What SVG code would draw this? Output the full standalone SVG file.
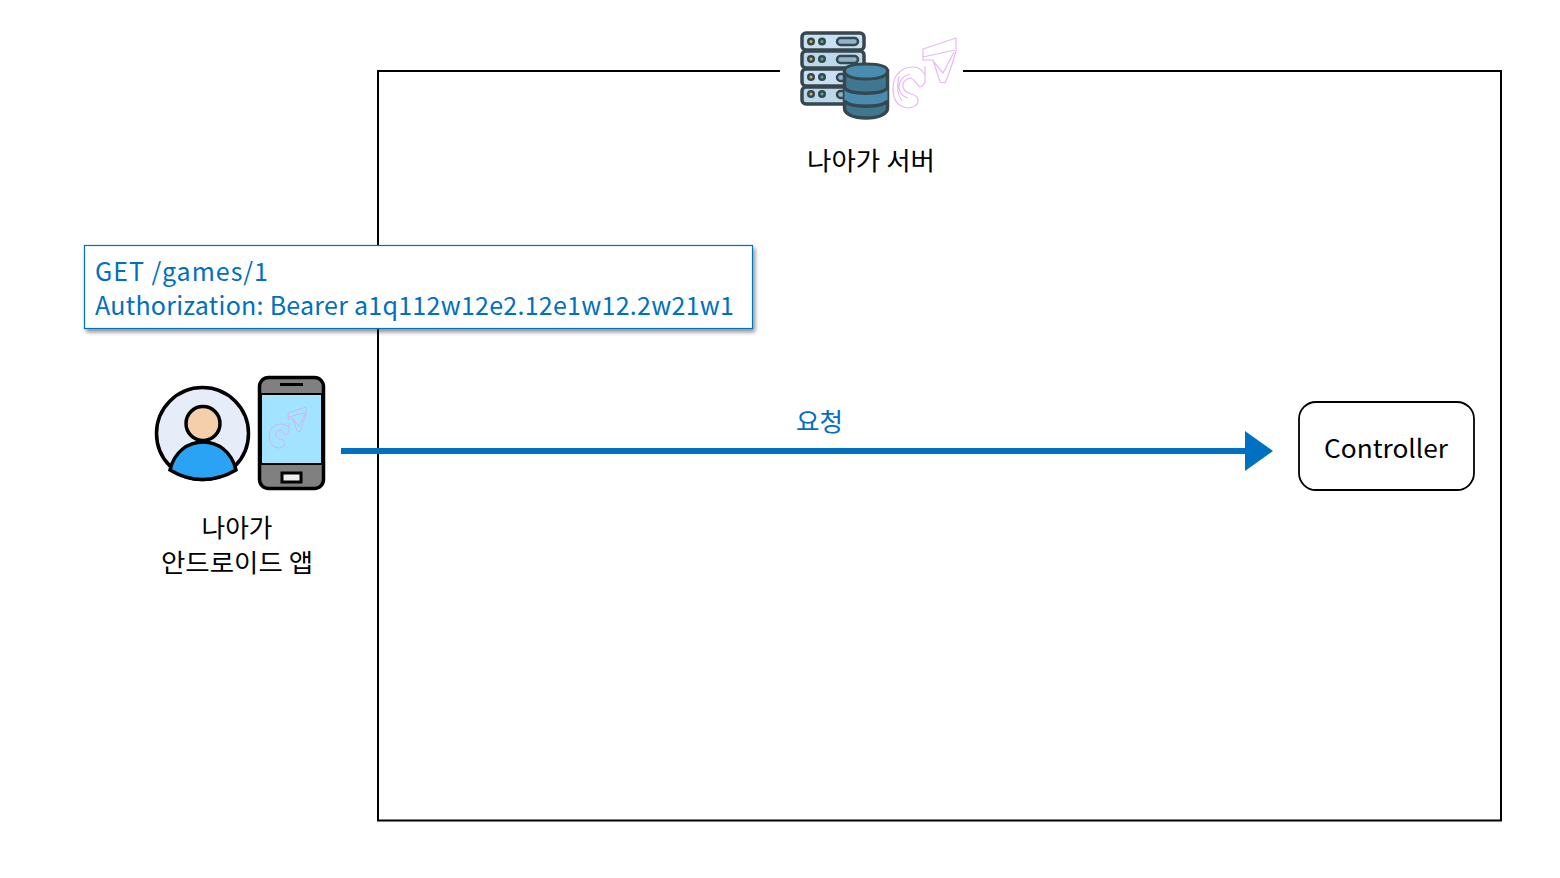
<svg xmlns="http://www.w3.org/2000/svg" width="1560" height="878" viewBox="0 0 1560 878">
<style>
text{font-family:"Noto Sans CJK KR","Noto Sans",sans-serif;font-size:25px;fill:#000}
.b{fill:#0070c0}
.sv{stroke:#37474f;stroke-width:3.500;fill:#bcd6ea}
.dk{fill:#37474f}
.logo{fill:none;stroke:#e8b8f8;stroke-width:1.200;stroke-linejoin:round}
.logo2{fill:none;stroke:#d8a8f0;stroke-width:.8;stroke-linejoin:round}
.k{stroke:#000;stroke-width:3.500}
</style>
<defs>
<filter id="sh" x="-5%" y="-10%" width="110%" height="125%"><feDropShadow dx="2" dy="3" stdDeviation="2" flood-color="#000" flood-opacity=".45"/></filter>
<marker id="arr" markerUnits="userSpaceOnUse" markerWidth="29" markerHeight="40" refX="5" refY="20" orient="auto"><path d="M0 0L28 20L0 40Z" fill="#0070c0"/></marker>
<g id="cv">
<path d="M923 49L956 38L956 51C953 62 949 74 945 83L940 82L933 60L923 60ZM923 57L955 50M933 61L943 73L954 52"/>
<path d="M925 66L925 78C926 83 922 87 920 87C916 84 914 78 910 78C905 79 902 83 903 87C904 91 907 93 911 94C916 95 919 98 918 102C917 106 912 108 907 108C900 107 896 103 894 97C892 90 893 81 896 76C900 70 907 67 913 67C918 67 922 69 925 75"/>
<path d="M899 76C897 84 897 94 902 101M910 74C904 76 899 80 899 87C899 93 903 97 908 98"/>
</g>
</defs>
<rect width="1560" height="878" fill="#fff"/>
<g id="server-frame"><path d="M780 71H378V820.500H1501V71H963" fill="none" stroke="#000" stroke-width="2"/></g>
<g id="server-node">
<rect class="sv" x="802" y="33" width="62" height="17" rx="4" style="fill:#c9e0f2"/>
<rect class="sv" x="802" y="51" width="62" height="17" rx="4"/>
<rect class="sv" x="802" y="69" width="62" height="17" rx="4" style="fill:#c9e0f2"/>
<rect class="sv" x="802" y="87" width="62" height="17" rx="4"/>
<circle class="dk" cx="811" cy="41.500" r="4"/><circle class="dk" cx="822" cy="41.500" r="4"/>
<circle class="dk" cx="811" cy="59" r="4"/><circle class="dk" cx="822" cy="59" r="4"/>
<circle class="dk" cx="811" cy="77" r="4"/><circle class="dk" cx="822" cy="77" r="4"/>
<circle class="dk" cx="811" cy="94" r="4"/><circle class="dk" cx="822" cy="94" r="4"/>
<circle cx="811" cy="41.500" r="1.500" fill="#d8b840"/><circle cx="822" cy="41.500" r="1.500" fill="#40b890"/>
<circle cx="811" cy="59" r="1.500" fill="#d8b840"/><circle cx="822" cy="59" r="1.500" fill="#40b890"/>
<circle cx="811" cy="77" r="1.500" fill="#d8b840"/><circle cx="822" cy="77" r="1.500" fill="#40b890"/>
<circle cx="811" cy="94" r="1.500" fill="#d8b840"/><circle cx="822" cy="94" r="1.500" fill="#40b890"/>
<rect x="837" y="38" width="21" height="7" rx="3.500" fill="#8fb4cc" stroke="#37474f" stroke-width="2.500"/>
<rect x="837" y="56" width="21" height="7" rx="3.500" fill="#8fb4cc" stroke="#37474f" stroke-width="2.500"/>
<rect x="837" y="74" width="21" height="7" rx="3.500" fill="#8fb4cc" stroke="#37474f" stroke-width="2.500"/>
<rect x="837" y="91" width="21" height="7" rx="3.500" fill="#8fb4cc" stroke="#37474f" stroke-width="2.500"/>
<path d="M844.500 71V108C844.500 114 853 118 866 118C879 118 887.500 114 887.500 108V71Z" fill="#3f7690" stroke="#37474f" stroke-width="3.500"/>
<path d="M844.500 71C844.500 66 853 64 866 64C879 64 887.500 66 887.500 71C887.500 76 879 79 866 79C853 79 844.500 76 844.500 71Z" fill="#4a8bb0" stroke="#37474f" stroke-width="3"/>
<path d="M844.500 90C850 96 882 96 887.500 90V100C882 106 850 106 844.500 100Z" fill="#4a8bb0"/>
<path d="M844.500 88C850 95 882 95 887.500 88M844.500 101C850 108 882 108 887.500 101" fill="none" stroke="#37474f" stroke-width="3.500"/>
<use href="#cv" class="logo"/>
<text x="807" y="170" textLength="128" lengthAdjust="spacingAndGlyphs">나아가 서버</text>
</g>
<g id="request-note">
<rect x="84.500" y="245.500" width="668" height="83" fill="#fff" stroke="#0070c0" stroke-width="1.200" filter="url(#sh)"/>
<text class="b" x="95" y="281" textLength="173" lengthAdjust="spacing">GET /games/1</text>
<text class="b" x="95" y="315" textLength="639" lengthAdjust="spacing">Authorization: Bearer a1q112w12e2.12e1w12.2w21w1</text>
</g>
<g id="android-app">
<circle cx="202.500" cy="433.500" r="46" fill="#e6ecf8" class="k"/>
<path d="M170 470C174 452 188 442 203 442C218 442 232 452 236 470C226 476 214 479.500 202 479.500C190 479.500 180 476 170 470Z" fill="#2aa3f5" class="k"/>
<circle cx="203" cy="423.500" r="17" fill="#f5cfac" class="k"/>
<rect x="259.500" y="377.500" width="64" height="111" rx="9" fill="#808080" stroke="#000" stroke-width="3.500"/>
<rect x="261" y="394" width="61" height="70" fill="#a2e4ff" stroke="#000" stroke-width="2"/>
<rect x="280" y="383" width="23" height="3" fill="#000"/>
<rect x="282" y="473" width="19" height="9" fill="#eee" stroke="#000" stroke-width="3"/>
<path class="logo2" d="M288 413L306 407L306 414C304 420 302 427 300 432L297 431L293 419L288 419ZM288 417L305 413M293 419L299 426L305 414M289 423L289 430C289 433 287 435 285 435C283 433 282 430 280 430C277 431 275 433 276 435C277 438 279 439 281 439C284 440 285 442 285 444C284 447 281 448 278 448C274 447 271 445 270 441C269 437 269 432 271 429C273 426 277 424 281 424C284 424 287 425 289 428"/>
<text x="237" y="537" text-anchor="middle" textLength="71" lengthAdjust="spacingAndGlyphs">나아가</text>
<text x="237" y="572" text-anchor="middle" textLength="152" lengthAdjust="spacingAndGlyphs">안드로이드 앱</text>
</g>
<g id="controller">
<rect x="1299" y="402" width="175" height="88" rx="17" fill="#fff" stroke="#000" stroke-width="1.800"/>
<text x="1386" y="458" text-anchor="middle" textLength="124" lengthAdjust="spacingAndGlyphs">Controller</text>
</g>
<g id="connectors">
<path d="M341 451H1250" fill="none" stroke="#0070c0" stroke-width="6" marker-end="url(#arr)"/>
<text class="b" x="796" y="431" textLength="47" lengthAdjust="spacingAndGlyphs">요청</text>
</g>
</svg>
